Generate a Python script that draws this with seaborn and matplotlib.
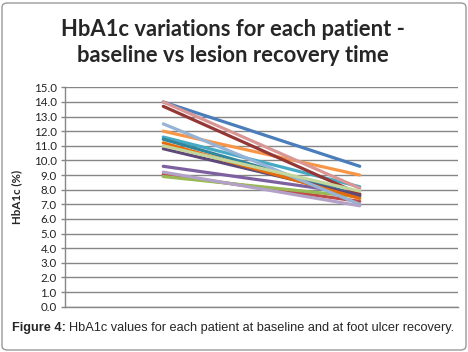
import matplotlib
matplotlib.use("Agg")
import matplotlib.pyplot as plt
import seaborn as sns
import pandas as pd
from matplotlib.patches import FancyBboxPatch

# ---- data ----
patients = ["P1", "P2", "P3", "P4", "P5", "P6", "P7", "P8", "P9",
            "P10", "P11", "P12", "P13", "P14"]
baseline = [14.0, 9.05, 8.9, 9.6, 11.6, 12.0, 11.45, 13.7, 10.8,
            11.2, 12.5, 14.0, 11.0, 9.2]
recovery = [9.6, 7.2, 7.5, 7.7, 8.2, 9.0, 7.6, 7.7, 7.6,
            7.4, 7.0, 8.1, 7.9, 6.9]
times = ["Baseline", "Recovery"]
colors = ["#4A7EBB", "#BE4B48", "#98B954", "#7D60A0", "#46AAC5", "#F79646",
          "#31859C", "#953735", "#5F497A", "#E46C0A", "#95B3D7", "#D99694",
          "#C3D69B", "#B3A2C7"]
yticks = [i * 1.0 for i in range(16)]

rows = []
for p, b, r in zip(patients, baseline, recovery):
    rows.append({"patient": p, "time": times[0], "value": b})
    rows.append({"patient": p, "time": times[1], "value": r})
df = pd.DataFrame(rows)

sns.set_theme(style="white")
plt.rcParams["font.family"] = ["Lato", "DejaVu Sans"]

fig = plt.figure(figsize=(4.68, 3.52), dpi=100)
ax = fig.add_axes([65 / 468, 1 - 306.7 / 352, (458 - 65) / 468, (306.7 - 87.3) / 352])

# gridlines
ax.set_axisbelow(True)
ax.yaxis.grid(True, color="#868686", linewidth=1.0)

sns.lineplot(data=df, x="time", y="value", hue="patient", palette=colors,
             linewidth=2.3, legend=False, ax=ax, sort=False)

ax.set_xlim(-0.5, 1.5)
ax.set_ylim(0, 15)
ax.set_yticks(yticks)
ax.set_yticklabels([f"{v:.1f}" for v in yticks], fontsize=8.3, color="#222222")
ax.set_xticks([])
ax.set_xlabel("")
ax.set_ylabel("HbA1c (%)", fontsize=8.3, fontweight="bold", labelpad=8)
ax.tick_params(axis="y", which="both", left=True, length=3, width=1,
               color="#868686", pad=3)
for side in ["top", "right"]:
    ax.spines[side].set_visible(False)
for side in ["left", "bottom"]:
    ax.spines[side].set_color("#868686")
    ax.spines[side].set_linewidth(1.0)

fig.text(233 / 468, 1 - 29 / 352, "HbA1c variations for each patient -",
         ha="center", va="center", fontsize=15.8, fontweight="bold")
fig.text(233 / 468, 1 - 56 / 352, "baseline vs lesion recovery time",
         ha="center", va="center", fontsize=15.8, fontweight="bold")

# caption
cap_y = 1 - 328 / 352
t1 = fig.text(12 / 468, cap_y, "Figure 4:", ha="left", va="center",
              fontsize=9.2, fontweight="bold", family="Liberation Sans")
fig.canvas.draw()
bb = t1.get_window_extent()
x2 = (bb.x1 + 3) / fig.bbox.width
fig.text(x2, cap_y, "HbA1c values for each patient at baseline and at foot ulcer recovery.",
         ha="left", va="center", fontsize=9.2, family="Liberation Sans")

# outer rounded border
box = FancyBboxPatch((2 / 468, 2 / 352), 464 / 468, 347 / 352,
                     boxstyle="round,pad=0,rounding_size=0.012",
                     transform=fig.transFigure, fill=False,
                     edgecolor="#9A9A9A", linewidth=1.0)
fig.patches.append(box)

fig.savefig("out.png", dpi=100)
